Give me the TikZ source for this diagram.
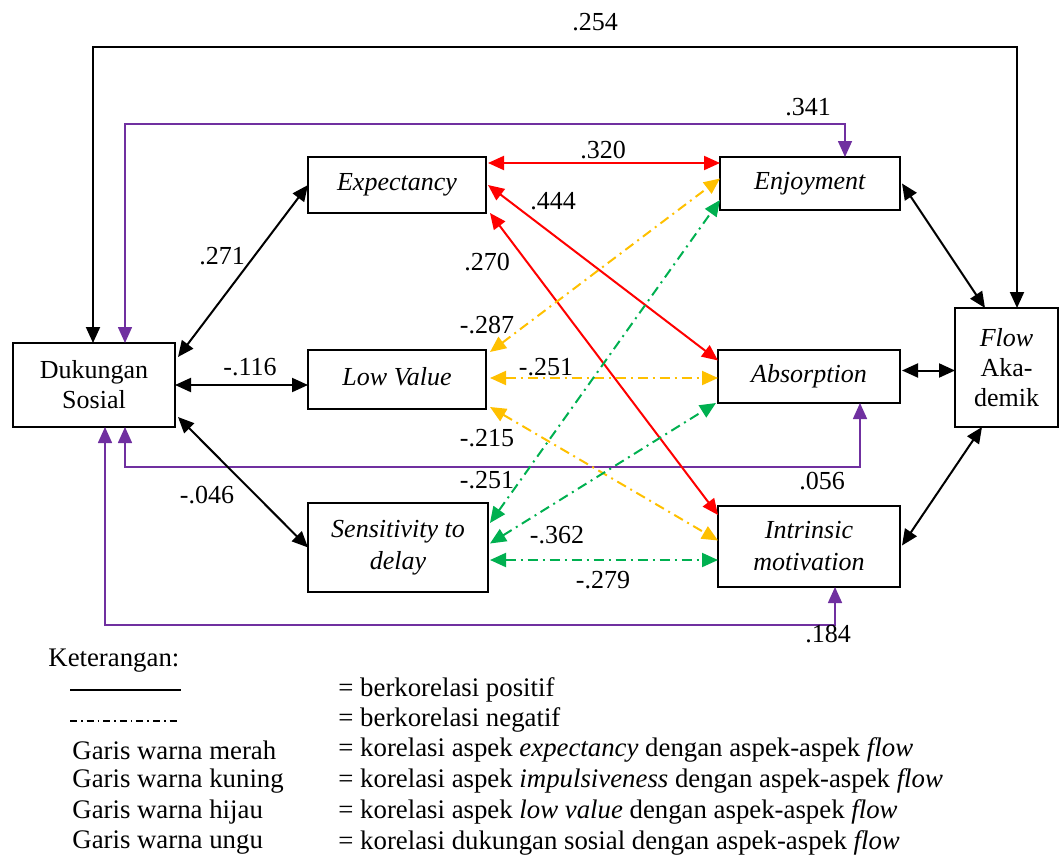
\documentclass[tikz,border=0pt]{standalone}
\usepackage{fontspec}
\setmainfont{Liberation Serif}
\usetikzlibrary{arrows.meta,calc}
\definecolor{cred}{RGB}{255,0,0}
\definecolor{cyel}{RGB}{255,192,0}
\definecolor{cgrn}{RGB}{0,176,80}
\definecolor{cpur}{RGB}{112,48,160}
\begin{document}
\begin{tikzpicture}[x=0.5pt,y=-0.5pt,
  every node/.style={font=\fontsize{13}{15}\selectfont},
  box/.style={draw,line width=1pt,inner sep=0pt,outer sep=0pt,align=center},
  conn/.style={line width=1pt,{Triangle[length=8pt,width=7pt]}-{Triangle[length=8pt,width=7pt]}},
  purp/.style={conn,cpur,line width=0.8pt},
  neg/.style={dash pattern=on 5pt off 2.5pt on 1pt off 2.5pt},
  redl/.style={conn,cred},
  yell/.style={conn,cyel,neg},
  grnl/.style={conn,cgrn,neg},
  lab/.style={inner sep=0pt},
  leg/.style={anchor=west,inner sep=0pt,font=\fontsize{13.4}{15}\selectfont}
]
\useasboundingbox (0,0) rectangle (1059,856);

% boxes
\node[box,minimum width=81pt,minimum height=42pt] (ds) at (94,385) {Dukungan\\Sosial};
\node[box,minimum width=89pt,minimum height=28pt] (ex) at (397,185) {\textit{Expectancy}\vphantom{g}};
\node[box,minimum width=89pt,minimum height=29.5pt] (lv) at (397,379.5) {\textit{Low Value}\vphantom{g}};
\node[box,minimum width=90pt,minimum height=44.5pt] (sd) at (398,547.5) {\textit{Sensitivity to}\\[1pt]\textit{delay}};
\node[box,minimum width=90pt,minimum height=26.5pt] (en) at (810,183.5) {\textit{Enjoyment}};
\node[box,minimum width=91pt,minimum height=26.5pt] (ab) at (809,376.5) {\textit{Absorption}};
\node[box,minimum width=91pt,minimum height=40.5pt] (im) at (809,546.5) {\textit{Intrinsic}\\[1pt]\textit{motivation}};
\node[box,minimum width=51.5pt,minimum height=59.5pt] (fa) at (1006.5,367.5) {\textit{Flow}\\Aka-\\demik};

% routing coordinates
\coordinate (p254) at (500,47);
\coordinate (p341) at (500,124);
\coordinate (p056) at (500,467);
\coordinate (p184) at (500,625);

% outer lines
\draw[conn] ([xshift=-0.5pt]ds.north) |- (p254) -| ([xshift=5.25pt]fa.north);
\draw[purp] ([xshift=15.5pt]ds.north) |- (p341) -| ([xshift=17.5pt]en.north);
\draw[purp] ([xshift=15.5pt]ds.south) |- (p056) -| ([xshift=25.5pt]ab.south);
\draw[purp] ([xshift=5.5pt]ds.south) |- (p184) -| ([xshift=13pt]im.south);

% black from Dukungan Sosial
\draw[conn] ($(ds.east)+(3,-28)$) -- (ex.west);
\draw[conn] (ds.east) -- (ds.east -| lv.west);
\draw[conn] ($(ds.east)+(3,32)$) -- (sd.west);

% black to Flow
\draw[conn] ($(en.east)+(2,0)$) -- ($(fa.north west)+(30,0)$);
\coordinate (ab2) at ($(ab.east)+(2,-6)$);
\draw[conn] (ab2) -- (ab2 -| fa.west);
\draw[conn] ($(im.east)+(2,-1)$) -- ($(fa.south west)+(27,0)$);

% red
\coordinate (r1) at ($(ex.east)+(2,-22)$);
\draw[redl] (r1) -- (r1 -| en.west);
\draw[redl] ($(ex.east)+(2,0)$) -- ($(ab.west)+(0,-16)$);
\draw[redl] ($(ex.south east)+(4,0)$) -- ($(im.north west)+(0,9)$);

% yellow
\draw[yell] ($(lv.north east)+(4,2)$) -- ($(en.west)+(0,-5)$);
\coordinate (y2) at ($(lv.east)+(4,-1.5)$);
\draw[yell] (y2) -- (y2 -| ab.west);
\draw[yell] ($(lv.south east)+(4,-2)$) -- ($(im.west)+(0,-6)$);

% green
\draw[grnl] ($(sd.north east)+(2,20)$) -- ($(en.south west)+(0,-10)$);
\draw[grnl] ($(sd.east)+(2,-4)$) -- ($(ab.south west)+(-2,0)$);
\coordinate (g3) at ($(sd.east)+(2,12.5)$);
\draw[grnl] (g3) -- (g3 -| im.west);

% labels
\node[lab] (l254) at (595,22) {.254};
\node[lab] (l341) at (808,107) {.341};
\node[lab] (l320) at (603,150) {.320};
\node[lab] (l444) at (553,201) {.444};
\node[lab] (l271) at (222,256) {.271};
\node[lab] (l270) at (487,262) {.270};
\node[lab] (l287) at (487,325) {-.287};
\node[lab] (l116) at (250,367) {-.116};
\node[lab] (l251a) at (546,367) {-.251};
\node[lab] (l215) at (487,438) {-.215};
\node[lab] (l251b) at (487,480) {-.251};
\node[lab] (l056) at (822,481) {.056};
\node[lab] (l046) at (207,495) {-.046};
\node[lab] (l362) at (557,535) {-.362};
\node[lab] (l279) at (603,580) {-.279};
\node[lab] (l184) at (828,634) {.184};

% legend
\node[leg] (ket) at (48,661) {Keterangan:};
\coordinate (s1) at (70,690);
\coordinate (s2) at (181,690);
\draw[line width=0.9pt] (s1) -- (s2);
\coordinate (d1) at (70,721);
\coordinate (d2) at (180,721);
\draw[line width=0.6pt,dash pattern=on 3.5pt off 2pt on 0.8pt off 2pt] (d1) -- (d2);
\node[leg] (g1) at (72,750) {Garis warna merah};
\node[leg] (g2) at (72,781) {Garis warna kuning};
\node[leg] (g3t) at (72,812) {Garis warna hijau};
\node[leg] (g4) at (72,843) {Garis warna ungu};
\node[leg] (e1) at (338,690) {= berkorelasi positif};
\node[leg] (e2) at (338,720) {= berkorelasi negatif};
\node[leg] (e3) at (338,750) {= korelasi aspek \textit{expectancy} dengan aspek-aspek \textit{flow}};
\node[leg] (e4) at (338,781) {= korelasi aspek \textit{impulsiveness} dengan aspek-aspek \textit{flow}};
\node[leg] (e5) at (338,812) {= korelasi aspek \textit{low value} dengan aspek-aspek \textit{flow}};
\node[leg] (e6) at (338,843) {= korelasi dukungan sosial dengan aspek-aspek \textit{flow}};
\end{tikzpicture}
\end{document}
